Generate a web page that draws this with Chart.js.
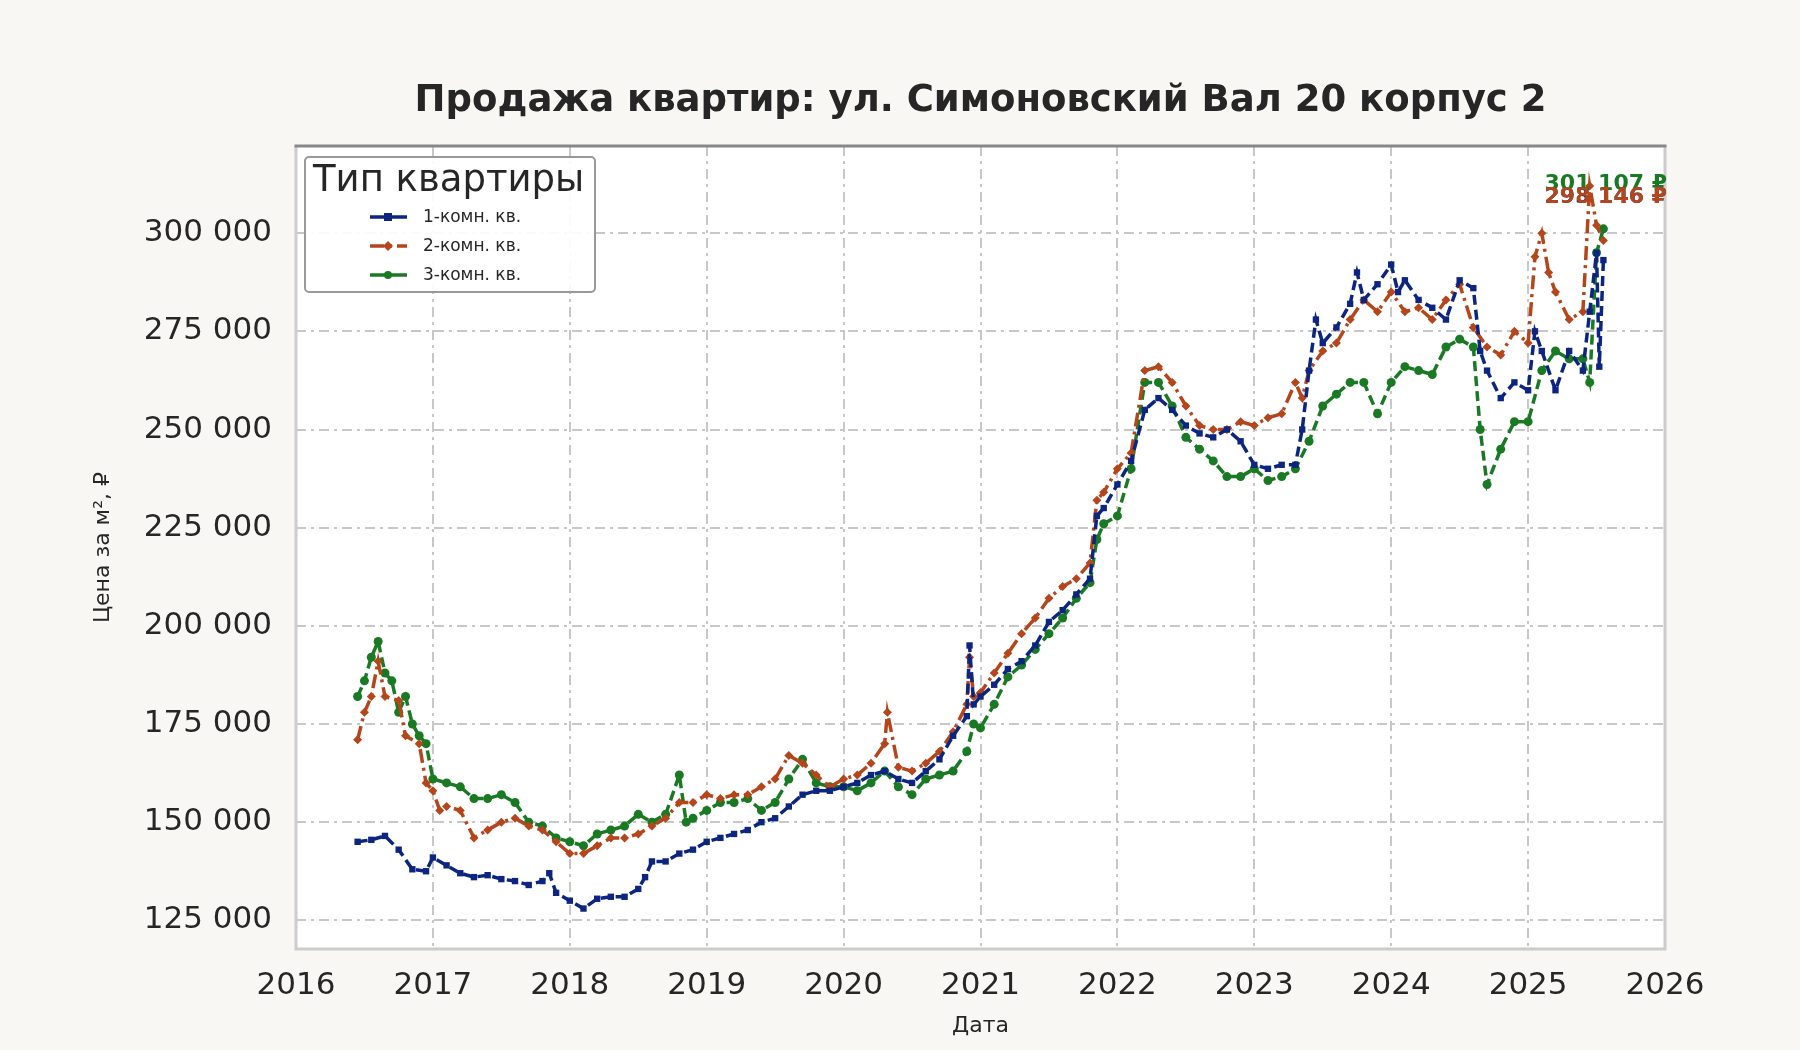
<!DOCTYPE html>
<html><head><meta charset="utf-8">
<script src="https://cdn.jsdelivr.net/npm/chart.js@4/dist/chart.umd.min.js"></script>
<style>html,body{margin:0;background:#f8f7f3}canvas{display:block}</style>
</head><body><div style="width:1800px;height:1050px"><canvas id="c"></canvas></div>
<script>
const seriesNames=["1-комн. кв.","2-комн. кв.","3-комн. кв."];
const lastLabels=["293 146 ₽","298 146 ₽","301 107 ₽"];
const yTicks=[125000,150000,175000,200000,225000,250000,275000,300000];
const xTicks=[2016,2017,2018,2019,2020,2021,2022,2023,2024,2025,2026];
const one=[[2016.45,145000],[2016.55,145500],[2016.65,146500],[2016.75,143000],[2016.85,138000],[2016.95,137500],[2017.0,141000],[2017.1,139000],[2017.2,137000],[2017.3,136000],[2017.4,136500],[2017.5,135500],[2017.6,135000],[2017.7,134000],[2017.8,135000],[2017.85,137000],[2017.9,132000],[2018.0,130000],[2018.1,128000],[2018.2,130500],[2018.3,131000],[2018.4,131000],[2018.5,133000],[2018.55,136000],[2018.6,140000],[2018.7,140000],[2018.8,142000],[2018.9,143000],[2019.0,145000],[2019.1,146000],[2019.2,147000],[2019.3,148000],[2019.4,150000],[2019.5,151000],[2019.6,154000],[2019.7,157000],[2019.8,158000],[2019.9,158000],[2020.0,159000],[2020.1,160000],[2020.2,162000],[2020.3,163000],[2020.4,161000],[2020.5,160000],[2020.6,163000],[2020.7,166000],[2020.8,172000],[2020.9,177000],[2020.92,195000],[2020.95,180000],[2021.0,182000],[2021.1,185000],[2021.2,189000],[2021.3,191000],[2021.4,195000],[2021.5,201000],[2021.6,204000],[2021.7,208000],[2021.8,212000],[2021.85,228000],[2021.9,230000],[2022.0,236000],[2022.1,242000],[2022.2,255000],[2022.3,258000],[2022.4,255000],[2022.5,251000],[2022.6,249000],[2022.7,248000],[2022.8,250000],[2022.9,247000],[2023.0,241000],[2023.1,240000],[2023.2,241000],[2023.3,241000],[2023.35,250000],[2023.4,265000],[2023.45,278000],[2023.5,272000],[2023.6,276000],[2023.7,282000],[2023.75,290000],[2023.8,283000],[2023.9,287000],[2024.0,292000],[2024.05,285000],[2024.1,288000],[2024.2,283000],[2024.3,281000],[2024.4,278000],[2024.5,288000],[2024.6,286000],[2024.65,270000],[2024.7,265000],[2024.8,258000],[2024.9,262000],[2025.0,260000],[2025.05,275000],[2025.1,270000],[2025.2,260000],[2025.3,270000],[2025.4,265000],[2025.45,280000],[2025.5,295000],[2025.52,266000],[2025.55,293146]];
const two=[[2016.45,171000],[2016.5,178000],[2016.55,182000],[2016.6,191000],[2016.65,182000],[2016.75,181000],[2016.8,172000],[2016.9,170000],[2016.95,160000],[2017.0,158000],[2017.05,153000],[2017.1,154000],[2017.2,153000],[2017.3,146000],[2017.4,148000],[2017.5,150000],[2017.6,151000],[2017.7,149000],[2017.8,148000],[2017.9,145000],[2018.0,142000],[2018.1,142000],[2018.2,144000],[2018.3,146000],[2018.4,146000],[2018.5,147000],[2018.6,149000],[2018.7,151000],[2018.8,155000],[2018.9,155000],[2019.0,157000],[2019.1,156000],[2019.2,157000],[2019.3,157000],[2019.4,159000],[2019.5,161000],[2019.6,167000],[2019.7,165000],[2019.8,162000],[2019.9,159000],[2020.0,161000],[2020.1,162000],[2020.2,165000],[2020.3,170000],[2020.32,178000],[2020.4,164000],[2020.5,163000],[2020.6,165000],[2020.7,168000],[2020.8,173000],[2020.9,180000],[2020.92,192000],[2020.95,182000],[2021.0,183000],[2021.1,188000],[2021.2,193000],[2021.3,198000],[2021.4,202000],[2021.5,207000],[2021.6,210000],[2021.7,212000],[2021.8,216000],[2021.85,232000],[2021.9,234000],[2022.0,240000],[2022.1,244000],[2022.2,265000],[2022.3,266000],[2022.4,262000],[2022.5,256000],[2022.6,251000],[2022.7,250000],[2022.8,250000],[2022.9,252000],[2023.0,251000],[2023.1,253000],[2023.2,254000],[2023.3,262000],[2023.35,258000],[2023.4,265000],[2023.5,270000],[2023.6,272000],[2023.7,278000],[2023.8,283000],[2023.9,280000],[2024.0,285000],[2024.1,280000],[2024.2,281000],[2024.3,278000],[2024.4,283000],[2024.5,287000],[2024.6,276000],[2024.7,271000],[2024.8,269000],[2024.9,275000],[2025.0,272000],[2025.05,294000],[2025.1,300000],[2025.15,290000],[2025.2,285000],[2025.3,278000],[2025.4,280000],[2025.45,312000],[2025.5,302000],[2025.55,298146]];
const three=[[2016.45,182000],[2016.5,186000],[2016.55,192000],[2016.6,196000],[2016.65,188000],[2016.7,186000],[2016.75,178000],[2016.8,182000],[2016.85,175000],[2016.9,172000],[2016.95,170000],[2017.0,161000],[2017.1,160000],[2017.2,159000],[2017.3,156000],[2017.4,156000],[2017.5,157000],[2017.6,155000],[2017.7,150000],[2017.8,149000],[2017.9,146000],[2018.0,145000],[2018.1,144000],[2018.2,147000],[2018.3,148000],[2018.4,149000],[2018.5,152000],[2018.6,150000],[2018.7,152000],[2018.8,162000],[2018.85,150000],[2018.9,151000],[2019.0,153000],[2019.1,155000],[2019.2,155000],[2019.3,156000],[2019.4,153000],[2019.5,155000],[2019.6,161000],[2019.7,166000],[2019.8,160000],[2019.9,159000],[2020.0,159000],[2020.1,158000],[2020.2,160000],[2020.3,163000],[2020.4,159000],[2020.5,157000],[2020.6,161000],[2020.7,162000],[2020.8,163000],[2020.9,168000],[2020.95,175000],[2021.0,174000],[2021.1,180000],[2021.2,187000],[2021.3,190000],[2021.4,194000],[2021.5,198000],[2021.6,202000],[2021.7,207000],[2021.8,211000],[2021.85,222000],[2021.9,226000],[2022.0,228000],[2022.1,240000],[2022.2,262000],[2022.3,262000],[2022.4,256000],[2022.5,248000],[2022.6,245000],[2022.7,242000],[2022.8,238000],[2022.9,238000],[2023.0,240000],[2023.1,237000],[2023.2,238000],[2023.3,240000],[2023.4,247000],[2023.5,256000],[2023.6,259000],[2023.7,262000],[2023.8,262000],[2023.9,254000],[2024.0,262000],[2024.1,266000],[2024.2,265000],[2024.3,264000],[2024.4,271000],[2024.5,273000],[2024.6,271000],[2024.65,250000],[2024.7,236000],[2024.8,245000],[2024.9,252000],[2025.0,252000],[2025.1,265000],[2025.2,270000],[2025.3,268000],[2025.4,268000],[2025.45,262000],[2025.5,295000],[2025.55,301107]];
const colors=["#0c2580","#b5451b","#1a7a24"];
const dashes=[[10,5],[14,5,3,5],[10,5]];
const shapes=["rect","rectRot","circle"];
const all=[one,two,three];
const fmt=v=>Math.round(v).toString().replace(/\B(?=(\d{3})+(?!\d))/g,' ');
const F="'DejaVu Sans'";
const deco={id:'deco',
beforeDraw(c){const {ctx,chartArea:a}=c;ctx.save();ctx.fillStyle='#fff';ctx.fillRect(a.left,a.top,a.right-a.left,a.bottom-a.top);ctx.restore();},
afterDraw(c){const {ctx,chartArea:a}=c;ctx.save();
ctx.strokeStyle='#cccccc';ctx.lineWidth=3;ctx.beginPath();ctx.moveTo(a.left,a.top);ctx.lineTo(a.left,a.bottom);ctx.lineTo(a.right,a.bottom);ctx.lineTo(a.right,a.top);ctx.stroke();
ctx.strokeStyle='#888';ctx.beginPath();ctx.moveTo(a.left-1.5,a.top);ctx.lineTo(a.right+1.5,a.top);ctx.stroke();
ctx.fillStyle='#262626';ctx.font="bold 37px "+F;ctx.textAlign='center';ctx.textBaseline='middle';ctx.fillText("Продажа квартир: ул. Симоновский Вал 20 корпус 2",(a.left+a.right)/2,101);
ctx.font="22px "+F;ctx.fillText("Дата",(a.left+a.right)/2,1026);
ctx.save();ctx.translate(103,(a.top+a.bottom)/2);ctx.rotate(-Math.PI/2);ctx.fillText("Цена за м², ₽",0,0);ctx.restore();
ctx.font="bold 22px "+F;ctx.textAlign='right';
const ly=[197,197,184];[0,2,1].forEach(i=>{ctx.fillStyle=colors[i];ctx.fillText(lastLabels[i],a.right+2,ly[i]);});
const lx=305,ly0=157,lw=290,lh=135;ctx.fillStyle='rgba(255,255,255,0.9)';ctx.strokeStyle='#999';ctx.lineWidth=2;
ctx.beginPath();ctx.roundRect(lx,ly0,lw,lh,4);ctx.fill();ctx.stroke();
ctx.fillStyle='#262626';ctx.font="37px "+F;ctx.textAlign='left';ctx.fillText("Тип квартиры",lx+8,ly0+24);
ctx.font="17px "+F;
[0,1,2].forEach(i=>{const y=ly0+60+i*29;ctx.strokeStyle=colors[i];ctx.lineWidth=3.5;ctx.setLineDash(i==1?[14,5,3,5]:[]);ctx.beginPath();ctx.moveTo(lx+65,y);ctx.lineTo(lx+102,y);ctx.stroke();ctx.setLineDash([]);
ctx.fillStyle=colors[i];const cx=lx+83;
if(i==0)ctx.fillRect(cx-4,y-4,8,8);else if(i==1){ctx.beginPath();ctx.moveTo(cx,y-5);ctx.lineTo(cx+5,y);ctx.lineTo(cx,y+5);ctx.lineTo(cx-5,y);ctx.fill();}else{ctx.beginPath();ctx.arc(cx,y,4,0,7);ctx.fill();}
ctx.fillStyle='#262626';ctx.fillText(seriesNames[i],lx+118,y+1);});
ctx.restore();}};
new Chart(document.getElementById('c'),{type:'line',
data:{datasets:all.map((d,i)=>({label:seriesNames[i],data:d.map(p=>({x:p[0],y:p[1]})),borderColor:colors[i],backgroundColor:colors[i],borderWidth:3.5,borderDash:dashes[i],pointStyle:shapes[i],pointRadius:4.5,pointBorderWidth:0,tension:0}))},
options:{responsive:true,maintainAspectRatio:false,animation:false,
layout:{padding:{top:146,right:135,left:0,bottom:0}},
plugins:{legend:{display:false},tooltip:{enabled:false}},
scales:{
x:{type:'linear',min:2016,max:2026,afterBuildTicks:s=>{s.ticks=xTicks.map(v=>({value:v}));},afterFit:s=>{s.height=101;},
ticks:{color:'#262626',font:{family:F,size:31},padding:18,callback:v=>String(v)},
grid:{color:'#c8c8c8',lineWidth:2,drawTicks:false},border:{display:false,dash:[10,5,3,5]}},
y:{min:117700,max:322200,afterBuildTicks:s=>{s.ticks=yTicks.map(v=>({value:v}));},afterFit:s=>{s.width=296;},
ticks:{color:'#262626',font:{family:F,size:31},padding:24,callback:v=>fmt(v)},
grid:{color:'#c8c8c8',lineWidth:2,drawTicks:false},border:{display:false,dash:[10,5,3,5]}}}},
plugins:[deco]});
</script></body></html>
